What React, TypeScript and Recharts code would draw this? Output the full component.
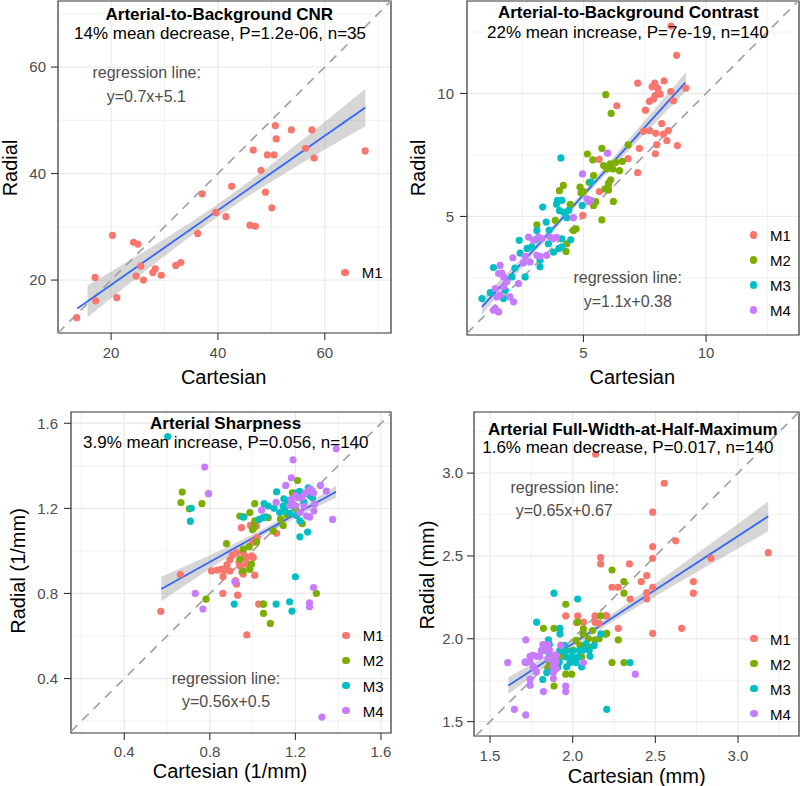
import React from 'react';
import {
  ComposedChart,
  Scatter,
  Area,
  XAxis,
  YAxis,
  CartesianGrid,
  ReferenceLine,
  ReferenceArea,
} from 'recharts';

type Pt = [number, number];

const GROUPS = ['M1', 'M2', 'M3', 'M4'];
const GROUP_COLORS = ['#F8766D', '#7CAE00', '#00BFC4', '#C77CFF'];

// ---------- Panel 1: Arterial-to-Background CNR ----------
const CNR_M1: Pt[] = [
  [13.56, 12.94], [17.0, 20.5], [17.1, 16.1], [20.25, 28.4], [21.06, 16.7],
  [24.2, 27.1], [25.0, 26.75], [24.7, 20.75], [25.56, 22.6], [26.06, 20.0],
  [27.8, 21.4], [28.25, 22.1], [29.4, 20.9], [32.1, 22.75], [33.06, 23.3],
  [36.2, 28.75], [37.06, 36.2], [39.6, 32.7], [41.5, 31.9], [42.56, 37.6],
  [46.0, 30.3], [47.0, 30.1], [46.6, 44.4], [48.06, 40.6], [48.9, 36.5],
  [49.25, 43.5], [50.1, 33.56], [50.5, 43.5], [50.75, 49.0], [50.9, 46.5],
  [53.75, 48.2], [56.4, 44.75], [57.6, 48.2], [58.0, 42.9], [67.56, 44.25],
];
const CNR_BAND_X = [15.6, 20, 25, 30, 35, 40, 45, 50, 55, 60, 67.6];
const CNR_BAND_LO = [13.0, 16.6, 20.6, 24.5, 28.3, 31.9, 35.3, 38.5, 41.5, 44.5, 48.9];
const CNR_BAND_HI = [19.0, 21.6, 24.6, 27.7, 30.9, 34.3, 37.9, 41.7, 45.7, 49.7, 55.9];
const CNR_REG = { slope: 0.7, intercept: 5.1, xFrom: 13.68, xTo: 67.6 };

// ---------- Panel 2: Arterial-to-Background Contrast ----------
const CON_M1: Pt[] = [
  [8.57, 12.74], [8.8, 11.55], [7.21, 10.42], [7.91, 10.42], [8.29, 10.51],
  [7.8, 10.27], [8.02, 10.22], [8.56, 10.08], [9.18, 10.22], [8.13, 9.97],
  [7.92, 9.91], [7.85, 9.77], [7.69, 9.68], [8.67, 9.7], [7.53, 9.32],
  [6.36, 9.5], [8.19, 8.78], [7.7, 8.49], [7.45, 8.46], [7.95, 8.38],
  [8.26, 8.35], [7.28, 7.77], [7.99, 7.92], [8.4, 8.08], [8.83, 7.88],
  [7.93, 7.55], [6.82, 7.35], [7.21, 6.78], [5.99, 7.58], [5.64, 7.32],
  [5.65, 6.01], [6.02, 6.26], [4.97, 5.04], [8.46, 8.49], [8.06, 10.04],
];
const CON_M2: Pt[] = [
  [5.91, 9.95], [6.13, 9.19], [5.75, 7.77], [6.82, 7.91], [5.16, 7.54],
  [5.38, 7.3], [5.82, 7.07], [6.09, 7.14], [6.32, 7.2], [6.59, 7.24],
  [6.47, 6.86], [5.95, 6.93], [6.2, 6.93], [5.41, 6.66], [5.23, 6.39],
  [4.18, 6.26], [4.02, 6.05], [4.86, 6.19], [5.0, 6.01], [5.88, 6.12],
  [6.11, 6.49], [6.02, 6.08], [6.22, 5.61], [5.75, 4.86], [4.7, 4.5],
  [4.32, 3.89], [4.29, 3.58], [3.1, 4.66], [3.85, 4.84], [4.59, 4.43],
  [4.46, 5.49], [5.41, 5.45], [6.02, 6.36], [4.9, 5.95], [5.5, 5.6],
];
const CON_M3: Pt[] = [
  [4.08, 7.38], [3.94, 5.65], [4.12, 5.65], [3.34, 5.38], [4.02, 5.24],
  [4.18, 5.18], [4.32, 4.95], [3.48, 4.77], [3.1, 4.43], [2.38, 4.03],
  [3.03, 4.05], [2.89, 3.76], [3.57, 3.89], [4.12, 4.09], [4.12, 3.76],
  [2.42, 3.51], [3.78, 3.55], [2.62, 2.54], [3.23, 3.22], [3.23, 2.95],
  [2.08, 2.54], [1.33, 2.92], [0.86, 1.66], [1.81, 2.0], [1.74, 1.66],
  [4.95, 5.45], [5.3, 6.4], [4.48, 4.05], [4.0, 3.7], [1.2, 1.9],
  [3.6, 4.45], [2.7, 3.7], [4.4, 5.25], [3.9, 5.5], [2.2, 2.9],
];
const CON_M4: Pt[] = [
  [5.98, 7.57], [4.96, 6.73], [5.14, 5.72], [5.3, 5.65], [4.59, 4.95],
  [2.76, 4.16], [3.17, 4.16], [3.3, 4.09], [3.64, 4.16], [3.78, 4.09],
  [2.12, 3.32], [2.62, 3.38], [3.1, 3.42], [3.23, 3.38], [2.55, 3.11],
  [1.6, 3.01], [1.67, 2.7], [1.74, 2.54], [1.54, 2.68], [2.35, 2.27],
  [2.15, 1.53], [1.4, 2.07], [1.47, 1.73], [1.33, 1.19], [1.4, 1.26],
  [1.6, 1.8], [1.87, 2.34], [2.96, 4.03], [3.5, 3.42], [3.9, 4.15],
  [1.74, 2.14], [1.54, 1.12], [2.82, 3.15], [2.0, 1.73], [5.22, 5.6],
];
const CON_BAND_X = [0.86, 2, 3, 4, 5, 6, 7, 8, 9.18];
const CON_BAND_LO = [1.0, 2.34, 3.51, 4.65, 5.75, 6.81, 7.85, 8.88, 10.1];
const CON_BAND_HI = [1.65, 2.82, 3.85, 4.91, 6.01, 7.15, 8.31, 9.48, 10.86];
const CON_REG = { slope: 1.1, intercept: 0.38, xFrom: 0.86, xTo: 9.15 };

// ---------- Panel 3: Arterial Sharpness ----------
const SHP_M1: Pt[] = [
  [0.571, 0.716], [0.662, 0.889], [0.808, 0.906], [0.835, 0.91], [0.855, 0.914],
  [0.862, 0.88], [0.894, 0.906], [0.894, 0.958], [0.925, 0.992], [0.937, 0.948],
  [0.956, 0.992], [0.963, 0.977], [0.995, 0.977], [1.003, 0.969], [0.971, 0.9375],
  [0.956, 0.891], [1.01, 0.886], [0.925, 0.844], [0.861, 0.8], [0.93, 0.792],
  [0.973, 0.605], [1.028, 0.75], [0.948, 1.109], [1.018, 1.117], [1.112, 1.083],
  [1.021, 1.062], [0.905, 0.98], [0.94, 0.93], [0.97, 0.965], [0.88, 0.935],
  [1.0, 1.04], [0.92, 0.86], [0.99, 1.12], [0.87, 0.91], [0.95, 0.9],
];
const SHP_M2: Pt[] = [
  [0.671, 1.277], [0.665, 1.227], [0.763, 1.222], [0.704, 1.198], [0.782, 0.773],
  [1.051, 0.75], [1.051, 0.706], [1.083, 0.659], [1.298, 0.8], [1.21, 1.331],
  [1.186, 1.273], [1.01, 1.222], [0.987, 1.18], [0.94, 1.164], [1.073, 1.156],
  [1.01, 1.141], [1.006, 1.109], [1.143, 1.12], [1.232, 1.128], [1.096, 1.094],
  [0.878, 1.034], [1.018, 1.042], [0.984, 1.02], [0.956, 1.008], [0.995, 0.9375],
  [0.956, 0.906], [0.987, 0.914], [0.94, 0.961], [1.049, 0.75], [1.22, 1.25],
  [1.16, 1.17], [1.0, 1.1], [0.96, 1.16], [1.2, 1.2], [1.13, 1.15],
];
const SHP_M3: Pt[] = [
  [0.603, 1.5375], [0.713, 1.2], [0.709, 1.14], [0.914, 0.75], [1.11, 0.75],
  [1.173, 0.761], [1.184, 0.717], [1.2, 0.878], [1.112, 1.278], [1.146, 1.245],
  [1.165, 1.235], [1.208, 1.273], [1.26, 1.297], [1.267, 1.261], [1.054, 1.222],
  [1.073, 1.211], [1.143, 1.211], [1.127, 1.18], [1.174, 1.177], [1.205, 1.167],
  [1.221, 1.141], [1.049, 1.156], [1.031, 1.148], [0.956, 1.159], [1.221, 1.066],
  [1.257, 1.089], [1.24, 1.23], [1.19, 1.21], [1.15, 1.19], [1.22, 1.28],
  [1.1, 1.2], [1.28, 1.25], [1.06, 1.16], [1.18, 1.24], [1.25, 1.27],
];
const SHP_M4: Pt[] = [
  [0.776, 1.394], [0.794, 1.269], [0.732, 0.8], [0.768, 0.727], [0.917, 0.855],
  [1.391, 1.48], [1.374, 1.148], [1.285, 0.828], [1.266, 0.756], [1.266, 0.7375],
  [1.324, 0.219], [1.189, 1.428], [1.181, 1.344], [1.155, 1.308], [1.317, 1.308],
  [1.345, 1.281], [1.26, 1.281], [1.245, 1.27], [1.27, 1.29], [1.285, 1.272],
  [1.23, 1.25], [1.215, 1.25], [1.185, 1.228], [1.2, 1.213], [1.175, 1.213],
  [1.18, 1.24], [1.11, 1.228], [1.042, 1.192], [1.221, 1.18], [1.252, 1.164],
  [1.267, 1.159], [1.286, 1.1875], [1.24, 1.21], [1.2, 1.26], [1.29, 1.22],
];
const SHP_BAND_X = [0.573, 0.7, 0.8, 0.9, 1.0, 1.1, 1.2, 1.3, 1.39];
const SHP_BAND_LO = [0.763, 0.849, 0.916, 0.981, 1.043, 1.101, 1.155, 1.206, 1.25];
const SHP_BAND_HI = [0.879, 0.935, 0.98, 1.027, 1.077, 1.131, 1.189, 1.25, 1.306];
const SHP_REG = { slope: 0.56, intercept: 0.5, xFrom: 0.573, xTo: 1.39 };

// ---------- Panel 4: Arterial FWHM ----------
const FW_M1: Pt[] = [
  [2.139, 3.114], [2.554, 2.939], [2.484, 2.764], [2.623, 2.591], [2.484, 2.556],
  [2.169, 2.49], [2.169, 2.452], [2.343, 2.452], [2.484, 2.486], [3.183, 2.52],
  [2.837, 2.486], [2.448, 2.381], [2.415, 2.345], [2.238, 2.311], [2.276, 2.311],
  [2.484, 2.311], [2.448, 2.279], [2.347, 2.24], [2.448, 2.24], [2.73, 2.345],
  [2.73, 2.275], [2.659, 2.063], [2.484, 2.033], [2.276, 2.063], [1.958, 2.138],
  [2.03, 2.138], [2.065, 2.1], [2.135, 2.138], [2.135, 2.1], [2.206, 2.138],
  [2.159, 2.093], [2.024, 2.098], [2.2, 2.14],
];
const FW_M2: Pt[] = [
  [2.238, 2.415], [2.31, 2.345], [2.31, 2.275], [2.169, 2.138], [2.206, 2.033],
  [2.276, 1.993], [2.238, 1.856], [2.31, 1.856], [2.135, 1.993], [1.958, 2.208],
  [2.03, 2.1], [1.823, 2.063], [1.887, 2.063], [1.887, 1.715], [1.958, 1.786],
  [1.994, 1.786], [2.063, 2.031], [2.095, 2.0], [2.2, 2.027], [2.044, 1.961],
  [2.08, 1.96], [2.004, 1.93], [1.903, 1.89], [1.943, 1.894], [2.054, 1.89],
  [1.85, 1.82], [1.86, 1.85], [2.1, 1.95], [2.16, 2.0], [1.96, 1.93],
  [2.02, 1.99], [1.93, 1.96], [2.065, 2.06], [1.9, 1.82], [2.12, 2.05],
];
const FW_M3: Pt[] = [
  [1.887, 2.275], [2.03, 2.24], [1.782, 2.1], [1.923, 2.063], [1.923, 2.029],
  [2.171, 2.029], [2.347, 1.856], [2.206, 1.574], [1.853, 1.993], [1.859, 1.965],
  [1.819, 1.93], [1.923, 1.93], [1.994, 1.925], [2.04, 1.93], [2.06, 1.93],
  [2.105, 1.894], [1.964, 1.89], [1.984, 1.856], [2.02, 1.856], [2.054, 1.83],
  [1.964, 1.83], [1.883, 1.89], [1.919, 1.86], [1.883, 1.82], [1.843, 1.796],
  [1.819, 1.754], [2.0, 1.89], [2.03, 1.89], [1.95, 1.96], [2.08, 1.97],
  [1.91, 1.83], [2.1, 1.93], [1.86, 1.9], [1.945, 1.925], [2.13, 1.96],
];
const FW_M4: Pt[] = [
  [1.607, 1.856], [1.716, 1.993], [1.716, 1.856], [1.647, 1.574], [1.716, 1.54],
  [1.823, 1.681], [1.958, 1.681], [1.958, 1.715], [2.379, 1.786], [2.065, 1.856],
  [1.742, 1.894], [1.782, 1.894], [1.8, 1.894], [1.81, 1.93], [1.84, 1.93],
  [1.86, 1.93], [1.85, 1.965], [1.82, 1.965], [1.712, 1.86], [1.742, 1.86],
  [1.762, 1.83], [1.883, 1.86], [1.9, 1.86], [1.883, 1.83], [1.9, 1.82],
  [1.78, 1.8], [1.742, 1.755], [1.742, 1.72], [1.883, 1.796], [1.883, 1.76],
  [1.93, 1.96], [1.87, 1.9], [1.9, 1.9], [1.76, 1.9], [1.85, 1.88],
];
const FW_BAND_X = [1.611, 1.8, 2.0, 2.2, 2.4, 2.6, 2.8, 3.0, 3.183];
const FW_BAND_LO = [1.667, 1.805, 1.948, 2.078, 2.198, 2.315, 2.43, 2.545, 2.649];
const FW_BAND_HI = [1.767, 1.875, 1.992, 2.122, 2.262, 2.405, 2.55, 2.695, 2.829];
const FW_REG = { slope: 0.65, intercept: 0.67, xFrom: 1.611, xTo: 3.183 };

// ---------- Axis ticks ----------
const CNR_TICKS = [20, 40, 60];
const CNR_MINOR = [30, 50, 70];
const CON_TICKS = [5, 10];
const CON_MINOR = [2.5, 7.5, 12.5];
const SHP_TICKS = [0.4, 0.8, 1.2, 1.6];
const SHP_MINOR = [0.2, 0.6, 1.0, 1.4];
const FW_TICKS = [1.5, 2.0, 2.5, 3.0];
const FW_MINOR = [1.75, 2.25, 2.75, 3.25];

const FONT = '"Liberation Sans", Arial, Helvetica, sans-serif';
const DOT_R = 3.6;

const toObjs = (pts: Pt[]) => pts.map(([x, y]) => ({ x, y }));
const band = (xs: number[], lo: number[], hi: number[]) =>
  xs.map((x, i) => ({ x, range: [lo[i], hi[i]] }));

type PanelProps = {
  left: number;
  top: number;
  width: number;
  height: number;
  yw: number;
  mt: number;
  mr: number;
  xh: number;
  xDomain: [number, number];
  yDomain: [number, number];
  ticks: number[];
  minor: number[];
  series: Pt[][];
  bandData: { x: number; range: number[] }[];
  reg: { slope: number; intercept: number; xFrom: number; xTo: number };
  tmx: number;
  tmy: number;
  fmt?: (v: number) => string;
};

const dotShape = (color: string) => (props: any) => (
  <circle cx={props.cx} cy={props.cy} r={DOT_R} fill={color} stroke="none" />
);

function Panel(p: PanelProps) {
  const diagLo = Math.max(p.xDomain[0], p.yDomain[0]);
  const diagHi = Math.min(p.xDomain[1], p.yDomain[1]);
  const tickStyle = { fontSize: 15, fill: '#4D4D4D', fontFamily: FONT };
  return (
    <div style={{ position: 'absolute', left: p.left, top: p.top }}>
      <ComposedChart
        width={p.width}
        height={p.height}
        data={p.bandData}
        margin={{ top: p.mt, right: p.mr, bottom: 0, left: 0 }}
      >
        <CartesianGrid
          stroke="#EEEEEE"
          strokeWidth={0.8}
          horizontalValues={p.minor}
          verticalValues={p.minor}
        />
        <CartesianGrid
          stroke="#EBEBEB"
          strokeWidth={1.3}
          horizontalValues={p.ticks}
          verticalValues={p.ticks}
        />
        <XAxis
          type="number"
          dataKey="x"
          domain={p.xDomain}
          ticks={p.ticks}
          allowDataOverflow
          height={p.xh}
          axisLine={false}
          tickLine={{ stroke: '#333333', strokeWidth: 1.1 }}
          tickSize={7}
          tickMargin={p.tmx}
          tick={tickStyle}
          tickFormatter={p.fmt}
          interval={0}
        />
        <YAxis
          type="number"
          dataKey="y"
          domain={p.yDomain}
          ticks={p.ticks}
          allowDataOverflow
          width={p.yw}
          axisLine={false}
          tickLine={{ stroke: '#333333', strokeWidth: 1.1 }}
          tickSize={7}
          tickMargin={p.tmy}
          tick={tickStyle}
          tickFormatter={p.fmt}
          interval={0}
        />
        {p.series.map((s, i) => (
          <Scatter
            key={GROUPS[i]}
            name={GROUPS[i]}
            data={toObjs(s)}
            fill={GROUP_COLORS[i]}
            shape={dotShape(GROUP_COLORS[i])}
            isAnimationActive={false}
          />
        ))}
        <Area
          type="linear"
          dataKey="range"
          stroke="none"
          fill="#999999"
          fillOpacity={0.4}
          dot={false}
          activeDot={false}
          isAnimationActive={false}
        />
        <ReferenceLine
          segment={[
            { x: diagLo, y: diagLo },
            { x: diagHi, y: diagHi },
          ]}
          stroke="#A3A3A3"
          strokeWidth={1.7}
          strokeDasharray="9 7"
          ifOverflow="visible"
        />
        <ReferenceLine
          segment={[
            { x: p.reg.xFrom, y: p.reg.slope * p.reg.xFrom + p.reg.intercept },
            { x: p.reg.xTo, y: p.reg.slope * p.reg.xTo + p.reg.intercept },
          ]}
          stroke="#3366FF"
          strokeWidth={1.8}
          ifOverflow="visible"
        />
        <ReferenceArea
          x1={p.xDomain[0]}
          x2={p.xDomain[1]}
          y1={p.yDomain[0]}
          y2={p.yDomain[1]}
          fill="none"
          fillOpacity={0}
          stroke="#333333"
          strokeWidth={1.2}
          ifOverflow="visible"
        />
      </ComposedChart>
    </div>
  );
}

type TxtProps = {
  x: number;
  y: number;
  size: number;
  bold?: boolean;
  color?: string;
  rot?: boolean;
  children: React.ReactNode;
};

function Txt({ x, y, size, bold, color, rot, children }: TxtProps) {
  return (
    <div
      style={{
        position: 'absolute',
        left: x,
        top: y,
        transform: `translate(-50%, -50%)${rot ? ' rotate(-90deg)' : ''}`,
        fontSize: size,
        fontWeight: bold ? 700 : 400,
        color: color || '#000000',
        fontFamily: FONT,
        lineHeight: 1,
        whiteSpace: 'nowrap',
      }}
    >
      {children}
    </div>
  );
}

function LegendBox({ dotX, y0, step, textX, n }: { dotX: number; y0: number; step: number; textX: number; n: number }) {
  return (
    <>
      {GROUPS.slice(0, n).map((g, i) => (
        <React.Fragment key={g}>
          <div
            style={{
              position: 'absolute',
              left: dotX - DOT_R,
              top: y0 + i * step - DOT_R,
              width: DOT_R * 2,
              height: DOT_R * 2,
              borderRadius: '50%',
              background: GROUP_COLORS[i],
            }}
          />
          <div
            style={{
              position: 'absolute',
              left: textX,
              top: y0 + i * step,
              transform: 'translateY(-50%)',
              fontSize: 15,
              fontFamily: FONT,
              lineHeight: 1,
              color: '#000',
            }}
          >
            {g}
          </div>
        </React.Fragment>
      ))}
    </>
  );
}

const fmt1 = (v: number) => v.toFixed(1);

export default function App() {
  return (
    <div
      style={{
        position: 'fixed',
        left: 0,
        top: 0,
        width: 800,
        height: 786,
        background: '#FFFFFF',
        overflow: 'hidden',
      }}
    >
      <Panel
        left={0} top={0} width={400} height={393}
        yw={58} mt={1} mr={9} xh={60}
        xDomain={[10.06, 72.4]} yDomain={[10.06, 72.4]}
        ticks={CNR_TICKS} minor={CNR_MINOR}
        series={[CNR_M1]}
        bandData={band(CNR_BAND_X, CNR_BAND_LO, CNR_BAND_HI)}
        reg={CNR_REG} tmx={7} tmy={5}
      />
      <Panel
        left={400} top={0} width={400} height={393}
        yw={67} mt={1} mr={1} xh={58}
        xDomain={[0.25, 13.79]} yDomain={[0.18, 13.76]}
        ticks={CON_TICKS} minor={CON_MINOR}
        series={[CON_M1, CON_M2, CON_M3, CON_M4]}
        bandData={band(CON_BAND_X, CON_BAND_LO, CON_BAND_HI)}
        reg={CON_REG} tmx={5} tmy={6}
      />
      <Panel
        left={0} top={393} width={400} height={393}
        yw={71} mt={19} mr={9} xh={53}
        xDomain={[0.151, 1.647]} yDomain={[0.144, 1.653]}
        ticks={SHP_TICKS} minor={SHP_MINOR}
        series={[SHP_M1, SHP_M2, SHP_M3, SHP_M4]}
        bandData={band(SHP_BAND_X, SHP_BAND_LO, SHP_BAND_HI)}
        reg={SHP_REG} tmx={6} tmy={6} fmt={fmt1}
      />
      <Panel
        left={400} top={393} width={400} height={393}
        yw={74} mt={19} mr={1} xh={50}
        xDomain={[1.403, 3.369]} yDomain={[1.413, 3.369]}
        ticks={FW_TICKS} minor={FW_MINOR}
        series={[FW_M1, FW_M2, FW_M3, FW_M4]}
        bandData={band(FW_BAND_X, FW_BAND_LO, FW_BAND_HI)}
        reg={FW_REG} tmx={7} tmy={4} fmt={fmt1}
      />

      {/* Panel 1 texts */}
      <Txt x={219.3} y={14} size={17} bold>Arterial-to-Background CNR</Txt>
      <Txt x={220} y={33.3} size={17}>14% mean decrease, P=1.2e-06, n=35</Txt>
      <Txt x={146.7} y={72.7} size={16} color="#4D4D4D">regression line:</Txt>
      <Txt x={146.3} y={96.7} size={16} color="#4D4D4D">y=0.7x+5.1</Txt>
      <Txt x={10} y={167.5} size={20} rot>Radial</Txt>
      <Txt x={223.7} y={376.7} size={20}>Cartesian</Txt>
      <LegendBox dotX={345} y0={272.3} step={25} textX={361.7} n={1} />

      {/* Panel 2 texts */}
      <Txt x={628.3} y={11.7} size={17} bold>Arterial-to-Background Contrast</Txt>
      <Txt x={627.8} y={31.7} size={17}>22% mean increase, P=7e-19, n=140</Txt>
      <Txt x={627.7} y={278.3} size={16} color="#4D4D4D">regression line:</Txt>
      <Txt x={627.8} y={301.7} size={16} color="#4D4D4D">y=1.1x+0.38</Txt>
      <Txt x={418.3} y={168.3} size={20} rot>Radial</Txt>
      <Txt x={632.3} y={376.7} size={20}>Cartesian</Txt>
      <LegendBox dotX={753.3} y0={235} step={25} textX={770} n={4} />

      {/* Panel 3 texts */}
      <Txt x={225.7} y={423} size={17} bold>Arterial Sharpness</Txt>
      <Txt x={225.8} y={442.3} size={17}>3.9% mean increase, P=0.056, n=140</Txt>
      <Txt x={226} y={679} size={16} color="#4D4D4D">regression line:</Txt>
      <Txt x={226} y={702.3} size={16} color="#4D4D4D">y=0.56x+0.5</Txt>
      <Txt x={18} y={571.3} size={20} rot>Radial (1/mm)</Txt>
      <Txt x={230} y={771.3} size={20}>Cartesian (1/mm)</Txt>
      <LegendBox dotX={346} y0={635.3} step={25.1} textX={362.7} n={4} />

      {/* Panel 4 texts */}
      <Txt x={632.8} y={429} size={17} bold>Arterial Full-Width-at-Half-Maximum</Txt>
      <Txt x={627.8} y={447} size={17}>1.6% mean decrease, P=0.017, n=140</Txt>
      <Txt x={564.7} y={488} size={16} color="#4D4D4D">regression line:</Txt>
      <Txt x={564.2} y={510.7} size={16} color="#4D4D4D">y=0.65x+0.67</Txt>
      <Txt x={426.7} y={574.7} size={20} rot>Radial (mm)</Txt>
      <Txt x={636.7} y={776.3} size={20}>Cartesian (mm)</Txt>
      <LegendBox dotX={754} y0={638.7} step={25} textX={770} n={4} />
    </div>
  );
}
